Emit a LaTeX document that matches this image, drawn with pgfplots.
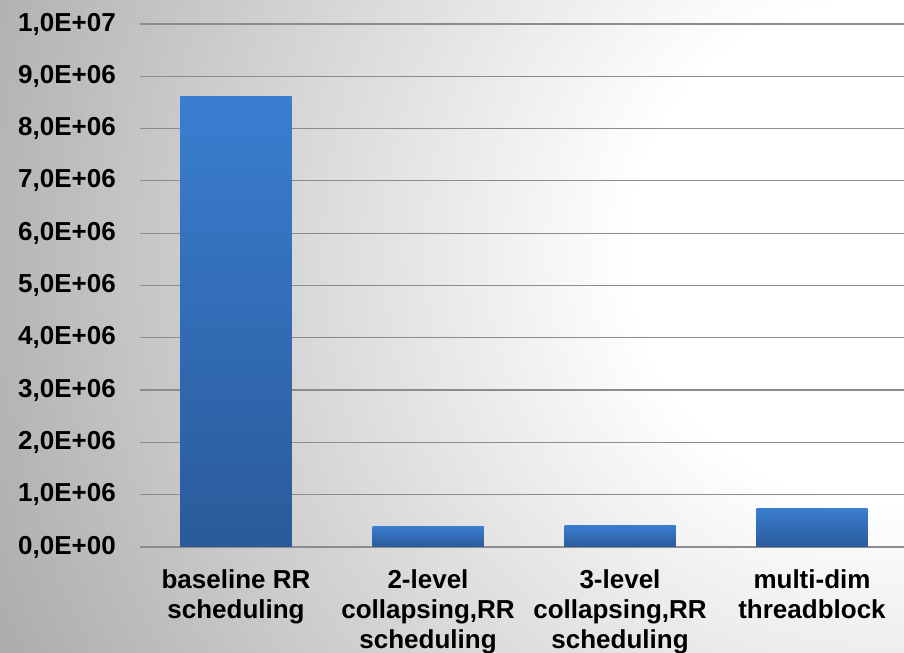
\documentclass[border=0pt]{standalone}
\usepackage{pgfplots}
\pgfplotsset{compat=1.18}
\usepackage{fontspec}
\setmainfont{Liberation Sans}
\definecolor{bgout}{RGB}{168,168,168}
\definecolor{bartop}{RGB}{58,126,208}
\definecolor{barbot}{RGB}{42,90,154}
\definecolor{gridc}{RGB}{140,140,140}
\pgfdeclareradialshading{bgshade}{\pgfpoint{0bp}{0bp}}{color(0bp)=(white); color(6.25bp)=(white); color(25bp)=(bgout); color(50bp)=(bgout)}
\begin{document}
\begin{tikzpicture}
\useasboundingbox (0,0) rectangle (904bp,653bp);
\begin{scope}
\clip (0,0) rectangle (904bp,653bp);
\shade[shading=bgshade] (880bp,403bp) circle (1000bp);
\end{scope}
\begin{axis}[
  at={(140bp,106bp)}, anchor=south west,
  scale only axis, width=768bp, height=523bp,
  xmin=-0.5, xmax=3.5, ymin=0, ymax=10,
  xtick={0,1,2,3},
  xticklabels={{baseline RR\\scheduling},{2-level\\collapsing,RR\\scheduling},{3-level\\collapsing,RR\\scheduling},{multi-dim\\threadblock}},
  ytick={0,1,2,3,4,5,6,7,8,9,10},
  yticklabels={{0,0E+00},{1,0E+06},{2,0E+06},{3,0E+06},{4,0E+06},{5,0E+06},{6,0E+06},{7,0E+06},{8,0E+06},{9,0E+06},{1,0E+07}},
  /pgf/number format/assume math mode=true,
  ymajorgrids, grid style={draw=gridc, line width=1.2bp},
  axis line style={draw=none},
  major tick style={draw=none},
  tick label style={font=\fontsize{26bp}{30bp}\selectfont\bfseries},
  yticklabel style={inner sep=0pt, anchor=east, xshift=-24bp},
  xticklabel style={inner sep=0pt, anchor=north, yshift=-22bp, align=center},
  clip=false,
  no markers,
  every axis plot/.append style={ybar, bar width=111bp, bar shift=0pt, draw=none, top color=bartop, bottom color=barbot, mark=none},
]
\addplot coordinates {(0,8.62)};
\addplot coordinates {(1,0.40)};
\addplot coordinates {(2,0.42)};
\addplot coordinates {(3,0.745)};
\end{axis}
\end{tikzpicture}
\end{document}
